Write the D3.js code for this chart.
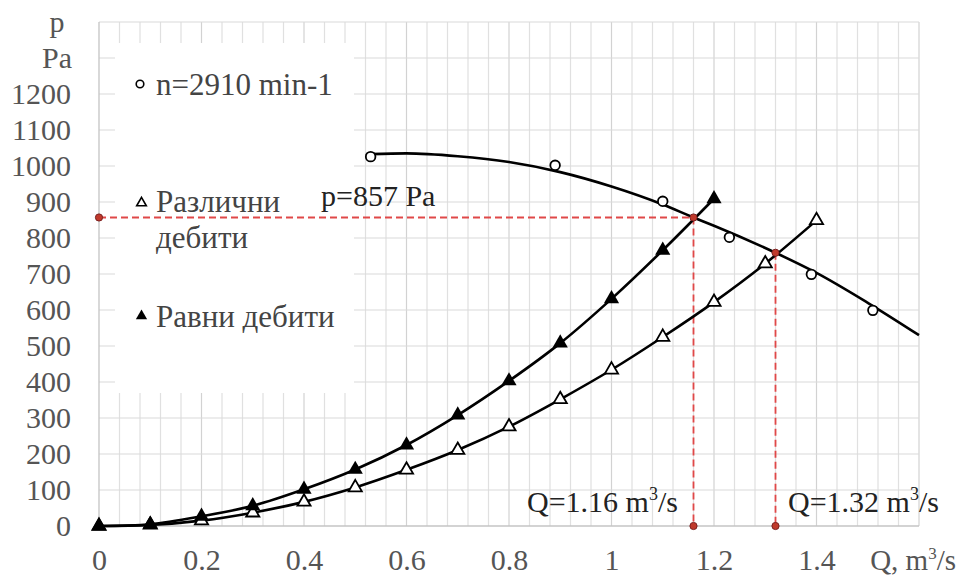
<!DOCTYPE html>
<html>
<head>
<meta charset="utf-8">
<script src="https://cdn.jsdelivr.net/npm/d3@7"></script>
<style>
  html, body { margin: 0; padding: 0; background: #ffffff; }
  svg { display: block; }
  svg text { font-family: "Liberation Serif", "Times New Roman", serif !important; }
</style>
</head>
<body>
<svg id="chart" width="957" height="578"></svg>
<script>
// Flow rate steps for both system characteristics, m3/s
const flowSteps = [0, 0.1, 0.2, 0.3, 0.4, 0.5, 0.6, 0.7, 0.8, 0.9, 1.0, 1.1, 1.2, 1.3, 1.4];
// "Различни дебити" pressures, Pa
const pressureVaried = [0, 3, 15, 37, 67, 107, 156, 211, 276, 352, 434, 525, 622, 729, 849];
// "Равни дебити" pressures, Pa (measured up to 1.2 m3/s)
const pressureEqual = [0, 5, 27, 56, 102, 157, 225, 308, 403, 508, 631, 766, 909];

// Fan test points at n = 2910 min-1
const fanFlow = [0.53, 0.89, 1.10, 1.23, 1.39, 1.51];
const fanPressure = [1026, 1002, 902, 802, 699, 599];
// Fan characteristic curve
const fanCurveFlow = [0.53, 0.6, 0.7, 0.8, 0.9, 1.0, 1.1, 1.16, 1.2, 1.32, 1.4, 1.5, 1.6];
const fanCurvePressure = [1033, 1035, 1027, 1011, 983, 943, 893, 857, 834, 759, 703, 620, 530];

// Operating points (fan curve x system curves)
const opFlow = [1.16, 1.32];
const opPressure = [857, 759];

// Axis ticks
const xTicks = [0, 0.2, 0.4, 0.6, 0.8, 1, 1.2, 1.4];
const yTicks = [0, 100, 200, 300, 400, 500, 600, 700, 800, 900, 1000, 1100, 1200];

const svg = d3.select("#chart");
const margin = { left: 99, top: 22, right: 38, bottom: 52 };
const W = 957, H = 578;

const x = d3.scaleLinear().domain([0, 1.6]).range([margin.left, W - margin.right]);
const y = d3.scaleLinear().domain([0, 1400]).range([H - margin.bottom, margin.top]);

const grid = svg.append("g");
// vertical grid, every 0.04
d3.range(1, 41).forEach(i => {
  const v = i * 0.04;
  const major = i % 5 === 0;
  grid.append("line")
    .attr("x1", x(v)).attr("x2", x(v))
    .attr("y1", y(0)).attr("y2", y(1400))
    .attr("stroke", major ? "#d2d2d2" : "#e0e0e0")
    .attr("stroke-width", 1.2);
});
// horizontal grid, every 100 Pa
d3.range(1, 15).forEach(i => {
  grid.append("line")
    .attr("x1", x(0)).attr("x2", x(1.6))
    .attr("y1", y(i * 100)).attr("y2", y(i * 100))
    .attr("stroke", "#dadada")
    .attr("stroke-width", 1.2);
});

// axes
const axisColor = "#c4c4c4";
svg.append("line").attr("x1", x(0)).attr("x2", x(0)).attr("y1", y(0)).attr("y2", y(1400))
  .attr("stroke", axisColor).attr("stroke-width", 1.3);
svg.append("line").attr("x1", x(0)).attr("x2", x(1.6)).attr("y1", y(0)).attr("y2", y(0))
  .attr("stroke", axisColor).attr("stroke-width", 1.3);

const tickGray = "#555555";
const tickSize = 30;
const xAxis = d3.axisBottom(x).tickValues(xTicks).tickSize(0).tickFormat(d3.format("~g"));
const gx = svg.append("g").attr("transform", `translate(0,${y(0)})`).call(xAxis);
gx.select(".domain").remove();
gx.attr("font-family", null).attr("font-size", null);
gx.selectAll("text").attr("font-size", tickSize).attr("fill", tickGray)
  .attr("dy", 0).attr("y", 44);

const yAxis = d3.axisLeft(y).tickValues(yTicks).tickSize(0).tickFormat(d3.format("d"));
const gy = svg.append("g").attr("transform", `translate(${x(0)},0)`).call(yAxis);
gy.select(".domain").remove();
gy.attr("font-family", null).attr("font-size", null);
gy.selectAll("text").attr("font-size", tickSize).attr("fill", tickGray)
  .attr("x", -28).attr("dy", "0.33em");

// axis titles in the place of the top tick labels
svg.append("text").attr("x", 57).attr("y", y(1400) + 10).attr("text-anchor", "middle")
  .attr("font-size", tickSize).attr("fill", tickGray).text("p");
svg.append("text").attr("x", 57).attr("y", y(1300) + 10).attr("text-anchor", "middle")
  .attr("font-size", tickSize).attr("fill", tickGray).text("Pa");
const qTitle = svg.append("text").attr("x", 956).attr("y", y(0) + 44)
  .attr("text-anchor", "end").attr("font-size", 29).attr("fill", tickGray);
qTitle.append("tspan").text("Q, m");
qTitle.append("tspan").attr("font-size", 17).attr("dy", -11).text("3");
qTitle.append("tspan").attr("dy", 11).text("/s");

// legend panel
svg.append("rect").attr("x", 115).attr("y", 43).attr("width", 239).attr("height", 350)
  .attr("fill", "#ffffff");

const variedData = flowSteps.map((q, i) => [q, pressureVaried[i]]);
const equalData = pressureEqual.map((p, i) => [flowSteps[i], p]);
const fanCurve = fanCurveFlow.map((q, i) => [q, fanCurvePressure[i]]);
const fanPts = fanFlow.map((q, i) => [q, fanPressure[i]]);

// operating-point guides
const red = "#e04848";
const guides = svg.append("g").attr("stroke", red).attr("stroke-width", 1.8)
  .attr("stroke-dasharray", "7,4").attr("fill", "none");
guides.append("line").attr("x1", x(0)).attr("x2", x(opFlow[0]))
  .attr("y1", y(opPressure[0])).attr("y2", y(opPressure[0]));
opFlow.forEach((q, i) => {
  guides.append("line").attr("x1", x(q)).attr("x2", x(q))
    .attr("y1", y(opPressure[i])).attr("y2", y(0));
});

const curves = svg.append("g").attr("fill", "none").attr("stroke", "#000")
  .attr("stroke-width", 2.6).attr("stroke-linejoin", "round");
curves.append("path").attr("d", d3.line().x(d => x(d[0])).y(d => y(d[1]))
  .curve(d3.curveCatmullRom.alpha(0.5))(variedData));
curves.append("path").attr("d", d3.line().x(d => x(d[0])).y(d => y(d[1]))
  .curve(d3.curveCatmullRom.alpha(0.5))(equalData));
curves.append("path").attr("d", d3.line().x(d => x(d[0])).y(d => y(d[1]))
  .curve(d3.curveMonotoneX)(fanCurve));

// markers
const tri = d3.symbol().type(d3.symbolTriangle);
svg.append("g").selectAll("path").data(variedData).join("path")
  .attr("d", tri.size(75)())
  .attr("transform", d => `translate(${x(d[0])},${y(d[1])})`)
  .attr("fill", "#ffffff").attr("stroke", "#000").attr("stroke-width", 1.8);
svg.append("g").selectAll("path").data(equalData).join("path")
  .attr("d", tri.size(100)())
  .attr("transform", d => `translate(${x(d[0])},${y(d[1])})`)
  .attr("fill", "#000");
svg.append("g").selectAll("circle").data(fanPts).join("circle")
  .attr("cx", d => x(d[0])).attr("cy", d => y(d[1])).attr("r", 4.8)
  .attr("fill", "#ffffff").attr("stroke", "#000").attr("stroke-width", 1.8);

// operating-point dots
const dots = [[0, opPressure[0]], [opFlow[0], opPressure[0]], [opFlow[1], opPressure[1]],
              [opFlow[0], 0], [opFlow[1], 0]];
svg.append("g").selectAll("circle").data(dots).join("circle")
  .attr("cx", d => x(d[0])).attr("cy", d => y(d[1])).attr("r", 3.6)
  .attr("fill", "#c0392b").attr("stroke", "#7a2020").attr("stroke-width", 1);

// annotations
const dark = "#222222";
svg.append("text").attr("x", 321).attr("y", 206).attr("font-size", 30).attr("fill", dark)
  .text(`p=${opPressure[0]} Pa`);
function qLabel(xPos, value) {
  const t = svg.append("text").attr("x", xPos).attr("y", 512).attr("font-size", 30)
    .attr("fill", dark);
  t.append("tspan").text(`Q=${value} m`);
  t.append("tspan").attr("font-size", 18).attr("dy", -12).text("3");
  t.append("tspan").attr("dy", 12).text("/s");
}
qLabel(527, opFlow[0].toFixed(2));
qLabel(788, opFlow[1].toFixed(2));

// legend
const legendColor = "#444444";
svg.append("circle").attr("cx", 140).attr("cy", 84).attr("r", 3.8)
  .attr("fill", "#fff").attr("stroke", "#000").attr("stroke-width", 1.6);
svg.append("text").attr("x", 156).attr("y", 95).attr("font-size", 31).attr("fill", legendColor)
  .text("n=2910 min-1");
svg.append("path").attr("d", tri.size(40)())
  .attr("transform", "translate(141.5,203)")
  .attr("fill", "#fff").attr("stroke", "#000").attr("stroke-width", 1.6);
svg.append("text").attr("x", 156).attr("y", 212).attr("font-size", 31).attr("fill", legendColor)
  .text("Различни");
svg.append("text").attr("x", 156).attr("y", 248).attr("font-size", 31).attr("fill", legendColor)
  .text("дебити");
svg.append("path").attr("d", tri.size(55)())
  .attr("transform", "translate(141.5,316)")
  .attr("fill", "#000");
svg.append("text").attr("x", 156).attr("y", 327).attr("font-size", 31).attr("fill", legendColor)
  .text("Равни дебити");
</script>
</body>
</html>
